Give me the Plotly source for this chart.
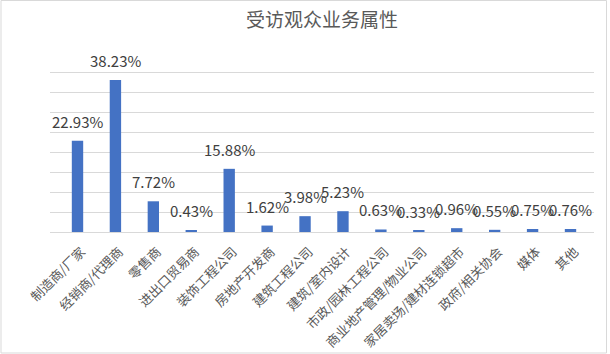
import plotly.graph_objects as go

title = "受访观众业务属性"
categories = ["制造商/厂家", "经销商/代理商", "零售商", "进出口贸易商", "装饰工程公司",
              "房地产开发商", "建筑工程公司", "建筑/室内设计", "市政/园林工程公司",
              "商业地产管理/物业公司", "家居卖场/建材连锁超市", "政府/相关协会", "媒体", "其他"]
values = [22.93, 38.23, 7.72, 0.43, 15.88, 1.62, 3.98, 5.23, 0.63, 0.33, 0.96, 0.55, 0.75, 0.76]
labels = [f"{v:.2f}%" for v in values]

FONT = "Noto Sans CJK SC"

fig = go.Figure()
fig.add_trace(go.Bar(x=categories, y=values, marker_color="#4472C4", marker_line_width=0,
                     hoverinfo="skip"))

for c, v, t in zip(categories, values, labels):
    fig.add_annotation(x=c, y=v, text=t, showarrow=False, yanchor="bottom", yshift=7,
                       font=dict(family=FONT, size=15, color="#404040"))

W, H = 610, 354
L, R, T, B = 50, 16, 53, 122
pw, ph = W - L - R, H - T - B
def px(x):
    return (x - L) / pw
def py(y):
    return (H - B - y) / ph

fig.add_shape(type="rect", xref="paper", yref="paper",
              x0=px(1), x1=px(606.5), y0=py(353), y1=py(0.5),
              line=dict(color="#D9D9D9", width=1), fillcolor="rgba(0,0,0,0)", layer="below")

fig.update_layout(
    width=W, height=H,
    margin=dict(l=L, r=R, t=T, b=B, autoexpand=False),
    paper_bgcolor="white", plot_bgcolor="white",
    bargap=0.7, showlegend=False,
    title=dict(text=title, x=0.5, xref="paper", xanchor="center", y=1 - 20 / H, yanchor="middle",
               font=dict(family=FONT, size=19, color="#595959")),
    xaxis=dict(tickangle=-45, tickfont=dict(family=FONT, size=13, color="#595959"),
               ticklabelshift=4, ticklabelstandoff=6, automargin=False,
               showline=True, linecolor="#D9D9D9", linewidth=1, ticks="", showgrid=False,
               fixedrange=True),
    yaxis=dict(range=[0, 45], dtick=5, showticklabels=False, showgrid=True, automargin=False,
               gridcolor="#D9D9D9", gridwidth=1, zeroline=False, fixedrange=True),
)

fig.write_html("out.html")
